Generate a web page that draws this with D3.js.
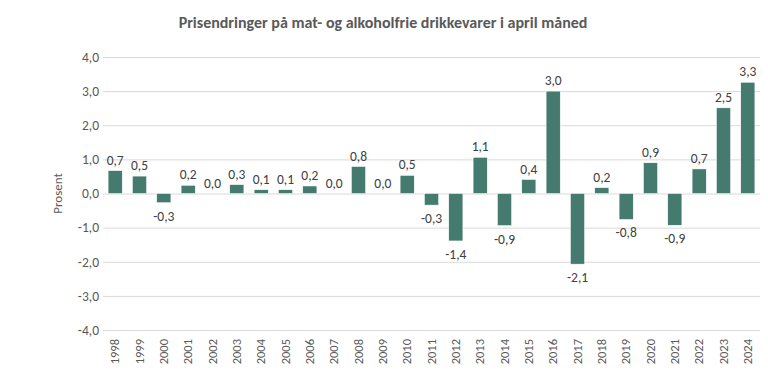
<!DOCTYPE html>
<html>
<head>
<meta charset="utf-8">
<script src="https://cdn.jsdelivr.net/npm/d3@7"></script>
<style>
	body { margin: 0; background: #fff; }
	svg { display: block; font-family: Carlito, Calibri, Lato, sans-serif; }
</style>
</head>
<body>
<svg id="chart"></svg>
<script>
var title = 'Prisendringer på mat- og alkoholfrie drikkevarer i april måned';
var yLabel = 'Prosent';
var years = ['1998', '1999', '2000', '2001', '2002', '2003', '2004', '2005', '2006', '2007',
	'2008', '2009', '2010', '2011', '2012', '2013', '2014', '2015', '2016', '2017',
	'2018', '2019', '2020', '2021', '2022', '2023', '2024'];
var values = [0.67, 0.51, -0.27, 0.24, 0.0, 0.26, 0.11, 0.11, 0.22, 0.0,
	0.79, 0.0, 0.53, -0.34, -1.39, 1.06, -0.94, 0.41, 3.0, -2.07,
	0.17, -0.76, 0.9, -0.93, 0.72, 2.51, 3.26];
var yTicks = [-4, -3, -2, -1, 0, 1, 2, 3, 4];

function render() {
	var W = 768, H = 388;
	var margins = {T: 57, B: 58, L: 103, R: 8};
	var font = 'Carlito, Calibri, Lato, sans-serif';
	var data = years.map(function(y, i) { return {'Year': y, 'Value': values[i]}; });

	// norsk format: komma som desimaltegn, vanlig bindestrek som minus
	var fmt = function(v) {
		var s = Math.abs(v).toFixed(1).replace('.', ',');
		return (v < 0 && s !== '0,0') ? '-' + s : s;
	};

	var x = d3.scaleBand()
		.domain(years)
		.range([0, W - margins.L - margins.R])
		.paddingInner(0.42)
		.paddingOuter(0.21);
	var y = d3.scaleLinear()
		.domain([-4, 4])
		.range([H - margins.T - margins.B, 0]);

	var svg = d3.select('#chart')
		.attr('width', W)
		.attr('height', H);

	svg.append('text')
		.attr('x', 383)
		.attr('y', 28)
		.attr('text-anchor', 'middle')
		.attr('font-size', 16)
		.attr('font-weight', 'bold')
		.attr('fill', '#595959')
		.text(title);

	var g = svg.append('g')
		.attr('transform', 'translate(' + margins.L + ',' + margins.T + ')');

	var yAxis = d3.axisLeft(y)
		.tickValues(yTicks)
		.tickSize(-(W - margins.L - margins.R))
		.tickPadding(4)
		.tickFormat(fmt);

	var ya = g.append('g').call(yAxis);
	ya.select('.domain').remove();
	ya.selectAll('line').attr('stroke', '#d9d9d9').attr('stroke-width', 1);
	ya.selectAll('text').attr('fill', '#595959').attr('font-size', 13.5)
		.attr('font-family', font);

	var xAxis = d3.axisBottom(x).tickSize(0).tickPadding(0);
	var xa = g.append('g')
		.attr('transform', 'translate(0,' + (H - margins.T - margins.B) + ')')
		.call(xAxis);
	xa.select('.domain').remove();
	xa.selectAll('text')
		.attr('fill', '#595959')
		.attr('font-size', 12.5)
		.attr('font-family', font)
		.attr('text-anchor', 'end')
		.attr('dy', null)
		.attr('transform', 'translate(4,9) rotate(-90)');

	g.append('g').selectAll('rect')
		.data(data)
		.enter().append('rect')
		.attr('x', function(d) { return x(d['Year']); })
		.attr('width', x.bandwidth())
		.attr('y', function(d) { return y(Math.max(0, d['Value'])); })
		.attr('height', function(d) { return Math.abs(y(d['Value']) - y(0)); })
		.attr('fill', '#457a6f')
		.attr('stroke', '#ffffff')
		.attr('stroke-width', 0.5);

	g.append('g').selectAll('text')
		.data(data)
		.enter().append('text')
		.attr('x', function(d) { return x(d['Year']) + x.bandwidth() / 2; })
		.attr('y', function(d) {
			return d['Value'] < 0 ? y(d['Value']) + 18 : y(d['Value']) - 6;
		})
		.attr('text-anchor', 'middle')
		.attr('font-size', 13.5)
		.attr('fill', '#404040')
		.text(function(d) { return fmt(d['Value']); });

	svg.append('text')
		.attr('transform', 'translate(62,' + (margins.T + y(0)) + ') rotate(-90)')
		.attr('text-anchor', 'middle')
		.attr('font-size', 13)
		.attr('fill', '#595959')
		.text(yLabel);
}

render();
</script>
</body>
</html>
